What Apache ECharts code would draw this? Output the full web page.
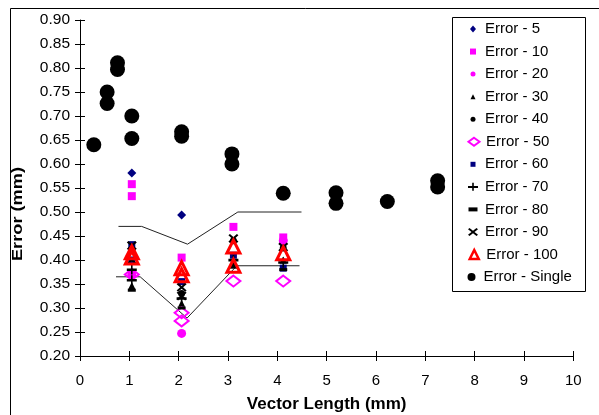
<!DOCTYPE html>
<html><head><meta charset="utf-8">
<script src="https://cdn.jsdelivr.net/npm/echarts@6/dist/echarts.min.js"></script>
<style>html,body{margin:0;padding:0;background:#fff}#c{width:599px;height:415px}</style>
</head><body><div id="c"></div>
<script>
// ---- data ----
const seriesNames = ['Error - 5','Error - 10','Error - 20','Error - 30','Error - 40','Error - 50',
  'Error - 60','Error - 70','Error - 80','Error - 90','Error - 100','Error - Single'];
const err5   = [[1.05,0.581],[2.06,0.494]];
const err10  = [[1.05,0.558],[1.05,0.533],[2.06,0.405],[3.11,0.469],[4.12,0.447]];
const err20  = [[1.05,0.370],[2.06,0.247],[4.12,0.440]];
const err30  = [[1.05,0.347],[2.06,0.310],[3.11,0.395],[4.12,0.400]];
const err40  = [[1.05,0.420],[2.06,0.330],[3.11,0.440],[4.12,0.425]];
const err50  = [[1.05,0.370],[2.06,0.290],[2.06,0.273],[3.11,0.356],[4.12,0.356]];
const err60  = [[1.05,0.432],[1.05,0.400],[2.06,0.355],[3.11,0.410],[4.12,0.383]];
const err70  = [[1.05,0.380],[1.05,0.358],[2.06,0.320],[3.11,0.400],[4.12,0.395]];
const err80  = [[1.05,0.337],[2.06,0.300],[3.11,0.385],[4.12,0.380]];
const err90  = [[1.05,0.430],[1.05,0.400],[2.06,0.343],[2.06,0.325],[3.11,0.445],[4.12,0.427]];
const err100 = [[1.05,0.416],[1.05,0.405],[2.06,0.383],[2.06,0.368],[3.11,0.428],[3.11,0.388],[4.12,0.414]];
const errSingle = [[0.28,0.640],[0.55,0.750],[0.55,0.726],[0.76,0.811],[0.76,0.797],[1.05,0.700],[1.05,0.653],
  [2.06,0.667],[2.06,0.658],[3.08,0.621],[3.08,0.600],[4.12,0.539],[5.19,0.540],[5.19,0.518],
  [6.23,0.522],[7.25,0.565],[7.25,0.552]];
const upperBound = [[0.78,0.470],[1.25,0.470],[2.18,0.433],[3.20,0.500],[4.49,0.500]];
const lowerBound = [[0.73,0.365],[1.22,0.365],[2.17,0.279],[3.18,0.388],[4.45,0.388]];
const xRange = [0, 10, 1];
const yRange = [0.2, 0.9, 0.05];
const xTitle = 'Vector Length (mm)';
const yTitle = 'Error (mm)';
// ---- styling ----
const PLUS = 'path://M0,3.8H10V6.4H0Z M4.2,0H5.8V10H4.2Z';
const CROSS = 'path://M0,1.5L1.5,0L5,3.5L8.5,0L10,1.5L6.5,5L10,8.5L8.5,10L5,6.5L1.5,10L0,8.5L3.5,5Z';
const datasets = [err5,err10,err20,err30,err40,err50,err60,err70,err80,err90,err100,errSingle];
const looks = [
  {sym:'diamond', size:[9,9], color:'#000080', leg:[6,7]},
  {sym:'rect', size:[8,8], color:'#FF00FF', leg:[6,6]},
  {sym:'circle', size:[9,9], color:'#FF00FF', leg:[5,5]},
  {sym:'triangle', size:[7,7], color:'#000000', leg:[5,5]},
  {sym:'circle', size:[7,7], color:'#000000', leg:[5,5]},
  {sym:'diamond', size:[14,11], color:'rgba(0,0,0,0)', border:'#FF00FF', bw:2, leg:[11,8], lbw:2},
  {sym:'rect', size:[7,7], color:'#000080', leg:[5,5]},
  {sym:PLUS, size:[10,10], color:'#000000', leg:[10,8]},
  {sym:'rect', size:[8,3], color:'#000000', leg:[9,4]},
  {sym:CROSS, size:[10,9], color:'#000000', leg:[10,8]},
  {sym:'triangle', size:[13,13], color:'rgba(0,0,0,0)', border:'#FF0000', bw:3, leg:[9,9], lbw:2.5},
  {sym:'circle', size:[15,15], color:'#000000', leg:[11,8]}
];
const FONT = "'Liberation Sans', Arial, sans-serif";
const series = datasets.map((d, i) => ({
  name: seriesNames[i], type: 'scatter', data: d, symbol: looks[i].sym, symbolSize: looks[i].size,
  symbolKeepAspect: false,
  itemStyle: {color: looks[i].color, borderColor: looks[i].border || looks[i].color, borderWidth: looks[i].bw || 0, opacity: 1},
  emphasis: {disabled: true}, animation: false
}));
[upperBound, lowerBound].forEach((d) => series.push({
  type: 'line', data: d, symbol: 'none', lineStyle: {color: '#222', width: 1},
  emphasis: {disabled: true}, animation: false, z: 1
}));
const legends = seriesNames.map((n, i) => {
  const w = looks[i].leg[0], h = looks[i].leg[1];
  const cy = 29 + i * 22.55;
  return {
    data: [{name: n, icon: looks[i].sym}], orient: 'vertical', left: 473 - w / 2, top: cy - Math.max(h, 15) / 2,
    itemWidth: w, itemHeight: h, padding: 0, itemGap: 0, selectedMode: false, z: 20, symbolKeepAspect: false,
    itemStyle: {borderWidth: looks[i].lbw || 0},
    textStyle: {fontFamily: FONT, fontSize: 15, color: '#000', padding: [0, 0, 0, 7 - w / 2]}
  };
});
const chart = echarts.init(document.getElementById('c'), null, {renderer: 'canvas'});
const axisCommon = {
  axisLine: {show: true, lineStyle: {color: '#000', width: 1}},
  splitLine: {show: false}
};
chart.setOption({
  animation: false,
  backgroundColor: '#fff',
  grid: {left: 80, right: 25.7, top: 20, bottom: 59, containLabel: false, outerBoundsMode: 'none'},
  xAxis: [
    Object.assign({type: 'value', min: xRange[0], max: xRange[1], interval: xRange[2], position: 'bottom',
      axisTick: {show: true, length: 5, lineStyle: {color: '#000'}},
      axisLabel: {fontFamily: FONT, fontSize: 15, color: '#000', margin: 17},
      name: xTitle, nameLocation: 'middle', nameGap: 40,
      nameTextStyle: {fontFamily: FONT, fontSize: 17, fontWeight: 'bold', color: '#000'}}, axisCommon),
    {type: 'value', min: xRange[0], max: xRange[1], interval: xRange[2], position: 'bottom',
      axisLine: {show: false}, splitLine: {show: false}, axisLabel: {show: false},
      axisTick: {show: true, inside: true, length: 5, lineStyle: {color: '#000'}}}
  ],
  yAxis: [
    Object.assign({type: 'value', min: yRange[0], max: yRange[1], interval: yRange[2], position: 'left',
      axisTick: {show: true, length: 5, lineStyle: {color: '#000'}},
      axisLabel: {fontFamily: FONT, fontSize: 15.5, color: '#000', margin: 10, formatter: v => v.toFixed(2)}}, axisCommon),
    {type: 'value', min: yRange[0], max: yRange[1], interval: yRange[2], position: 'left', offset: 0,
      axisLine: {show: false}, splitLine: {show: false}, axisLabel: {show: false},
      axisTick: {show: true, inside: true, length: 5, lineStyle: {color: '#000'}}}
  ],
  legend: legends,
  graphic: [
    {type: 'rect', left: 8, top: 6, shape: {width: 600, height: 420}, style: {fill: 'none', stroke: '#000', lineWidth: 1}, z: -10, silent: true},
    {type: 'rect', left: 452, top: 17, shape: {width: 133, height: 274}, style: {fill: '#fff', stroke: '#000', lineWidth: 1}, z: 3, silent: true},
    {type: 'text', x: 18, y: 214, rotation: Math.PI / 2, scaleX: 1.3,
      style: {text: yTitle, font: 'bold 14px ' + FONT, fill: '#000', align: 'center', verticalAlign: 'middle'}, z: 10, silent: true}
  ],
  series: series
});
</script></body></html>
